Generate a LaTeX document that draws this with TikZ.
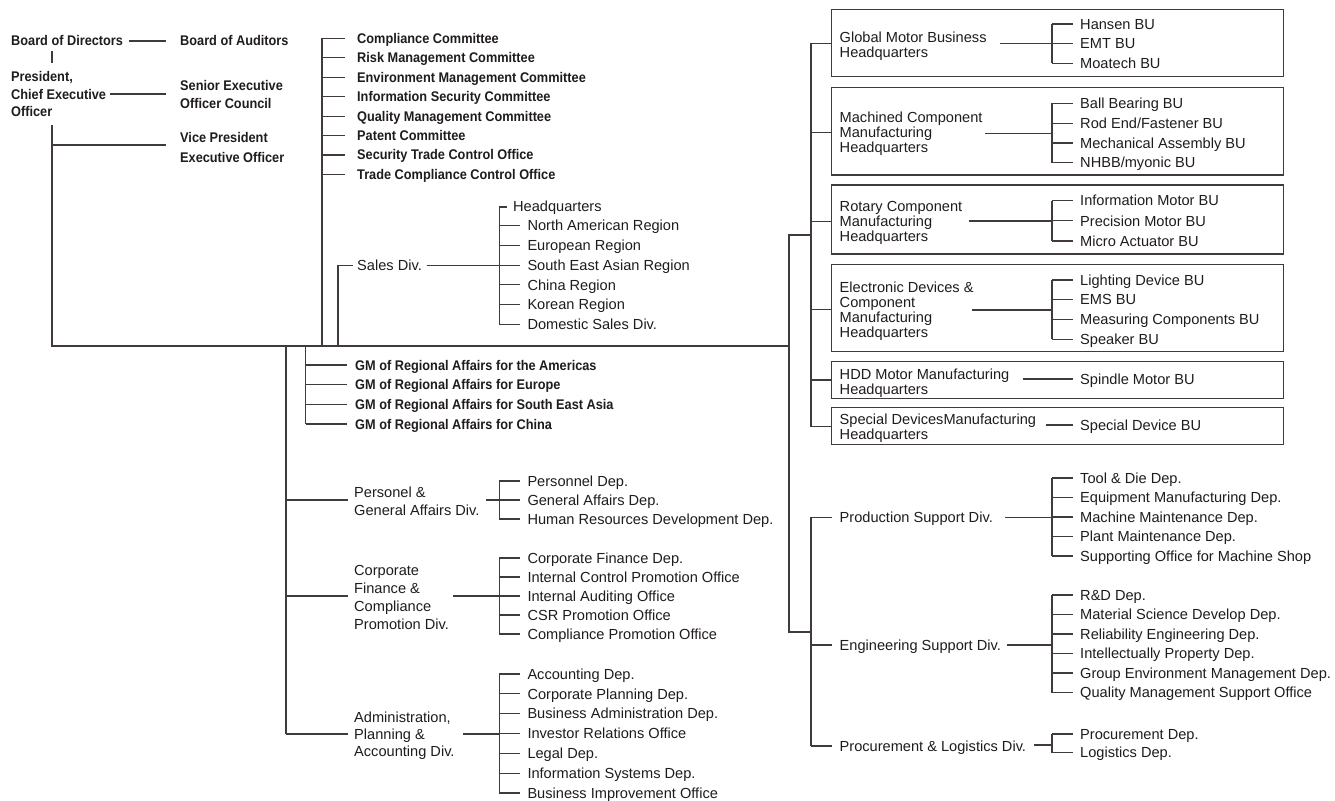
\documentclass[tikz,border=0pt]{standalone}
\usepackage{fontspec}
\setmainfont{Liberation Sans}
\newfontfamily\bfnt{Liberation Sans}[FakeStretch=0.91]
\definecolor{linec}{RGB}{64,58,58}
\definecolor{txt}{RGB}{32,28,28}
\newcommand\mylist[5]{% #1 prefix, #2 spine x, #3 y0, #4 dy, #5 items
  \foreach \t [count=\i from 0] in {#5}{
    \node[tr] (#1\i) at ({#2+28},{#3+#4*\i}) {\t};
    \draw[ln] (#2,{#3+#4*\i}) -- ([xshift=-7pt]#1\i.west);
  }
}
\begin{document}
\begin{tikzpicture}[x=1pt,y=-1pt,
  ln/.style={draw=linec,line width=1.2pt},
  bx/.style={draw=linec,line width=1.25pt,inner sep=0pt},
  tr/.style={anchor=west,inner sep=0pt,text=txt,font=\fontsize{14.6}{17}\selectfont,text height=10.4pt,text depth=0pt},
  tb/.style={anchor=west,inner sep=0pt,text=txt,font=\bfnt\bfseries\fontsize{14}{17}\selectfont,text height=10pt,text depth=0pt},
  mr/.style={anchor=west,inner sep=0pt,text=txt,align=left,font=\fontsize{14.6}{#1}\selectfont},
  mb/.style={anchor=west,inner sep=0pt,text=txt,align=left,font=\bfnt\bfseries\fontsize{14}{#1}\selectfont},
]
\useasboundingbox (0,0) rectangle (1335,800);
\fill[white] (0,0) rectangle (1335,800);

% ---------- top left ----------
\node[tb] (bod) at (11,41) {Board of Directors};
\node[tb] (boa) at (180,41) {Board of Auditors};
\node[mb=17.3] (pres) at (11,94) {President,\\Chief Executive\\Officer};
\node[mb=18] (seoc) at (180,94) {Senior Executive\\Officer Council};
\node[mb=20] (vp) at (180,147) {Vice President\\Executive Officer};
\draw[ln] ([xshift=5.5pt]bod.east) -- ([xshift=-14pt]boa.west);
\coordinate (bp0) at (52,51);
\coordinate (bp1) at (52,62.7);
\draw[ln] (bp0) -- (bp1);
\draw[ln] ([xshift=4pt]pres.east) -- ([xshift=-14pt]seoc.west);
\coordinate (pv) at (52,125);
\coordinate (m0) at (52,346);
\coordinate (m1) at (789,346);
\draw[ln] (pv) -- (m0) -- (m1);
\coordinate (vpj) at (52,145);
\draw[ln] (vpj) -- ([xshift=-14pt]vp.west |- vpj);

% ---------- committees ----------
\draw[ln] (322,38.5) -- (322,346);
\foreach \t [count=\i from 0] in {Compliance Committee, Risk Management Committee, Environment Management Committee, Information Security Committee, Quality Management Committee, Patent Committee, Security Trade Control Office, Trade Compliance Control Office}{
  \node[tb] (com\i) at (357,{38.5+19.4*\i}) {\t};
  \draw[ln] (322,{38.5+19.4*\i}) -- ([xshift=-12pt]com\i.west);
}

% ---------- sales ----------
\node[tr] (sales) at (357,265.5) {Sales Div.};
\draw[ln] (338,346) -- (338,265.5) -- ([xshift=-4pt]sales.west);
\coordinate (ssa) at (426.7,265.5);
\coordinate (ssj) at (499.3,265.5);
\draw[ln] (ssa) -- (ssj);
\draw[ln] (499.3,207) -- (499.3,324.2);
\node[tr] (hq) at (513,206.5) {Headquarters};
\draw[ln] (499.3,207) -- ([xshift=-6pt]hq.west |- 0,207);
\mylist{s}{499.3}{225.7}{19.7}{North American Region, European Region, South East Asian Region, China Region, Korean Region, Domestic Sales Div.}

% ---------- GM ----------
\draw[ln] (305.5,346) -- (305.5,424);
\foreach \t [count=\i from 0] in {GM of Regional Affairs for the Americas, GM of Regional Affairs for Europe, GM of Regional Affairs for South East Asia, GM of Regional Affairs for China}{
  \node[tb] (gm\i) at (355,{365+19.67*\i}) {\t};
  \draw[ln] (305.5,{365+19.67*\i}) -- ([xshift=-8pt]gm\i.west);
}

% ---------- left lower divisions ----------
\draw[ln] (286,346) -- (286,734);
\node[mr=18.3] (pers) at (354,501) {Personel \&\\General Affairs Div.};
\node[mr=18] (corp) at (354,597) {Corporate\\Finance \&\\Compliance\\Promotion Div.};
\node[mr=17.4] (adm) at (354,735.7) {Administration,\\Planning \&\\Accounting Div.};
\coordinate (pj) at (286,500);
\coordinate (cj) at (286,596);
\coordinate (aj) at (286,734);
\draw[ln] (pj) -- ([xshift=-6pt]pers.west |- pj);
\draw[ln] (cj) -- ([xshift=-6pt]corp.west |- cj);
\draw[ln] (aj) -- ([xshift=-6pt]adm.west |- aj);

\coordinate (psa) at (486,500);
\coordinate (psj) at (499.3,500);
\draw[ln] (psa) -- (psj);
\draw[ln] (499.3,481) -- (499.3,519);
\mylist{p}{499.3}{481}{19}{Personnel Dep., General Affairs Dep., Human Resources Development Dep.}

\coordinate (csa) at (453.3,596);
\coordinate (csj) at (499.3,596);
\draw[ln] (csa) -- (csj);
\draw[ln] (499.3,558) -- (499.3,634);
\mylist{c}{499.3}{558}{19}{Corporate Finance Dep., Internal Control Promotion Office, Internal Auditing Office, CSR Promotion Office, Compliance Promotion Office}

\coordinate (asa) at (462.7,734);
\coordinate (asj) at (499.3,734);
\draw[ln] (asa) -- (asj);
\draw[ln] (499.3,674) -- (499.3,793);
\mylist{a}{499.3}{674}{19.83}{Accounting Dep., Corporate Planning Dep., Business Administration Dep., Investor Relations Office, Legal Dep., Information Systems Dep., Business Improvement Office}

% ---------- right structure ----------
\coordinate (r0) at (789,235);
\coordinate (r1) at (789,632);
\draw[ln] (811,235) -- (r0) -- (m1) -- (r1) -- (811,632);
\draw[ln] (811,43.3) -- (811,426.7);
\draw[ln] (811,517.3) -- (811,746);

% boxes
\node[bx,minimum width=452.1pt,minimum height=67.4pt] (b1) at (1057.35,43) {};
\node[bx,minimum width=452.1pt,minimum height=87.7pt] (b2) at (1057.35,131.15) {};
\node[bx,minimum width=452.1pt,minimum height=69pt] (b3) at (1057.35,219.5) {};
\node[bx,minimum width=452.1pt,minimum height=87.4pt] (b4) at (1057.35,308) {};
\node[bx,minimum width=452.1pt,minimum height=36.6pt] (b5) at (1057.35,380) {};
\node[bx,minimum width=452.1pt,minimum height=36.6pt] (b6) at (1057.35,426) {};
\foreach \k/\y in {1/43.3,2/132.7,3/221.7,4/309.3,5/380,6/426.7}{
  \coordinate (bs\k) at (811,\y);
  \draw[ln] (bs\k) -- (bs\k -| b\k.west);
}

\node[mr=15] (h1) at (839.5,46) {Global Motor Business\\Headquarters};
\node[mr=15] (h2) at (839.5,133.5) {Machined Component\\Manufacturing\\Headquarters};
\node[mr=15] (h3) at (839.5,222.5) {Rotary Component\\Manufacturing\\Headquarters};
\node[mr=15] (h4) at (839.5,311.3) {Electronic Devices \&\\Component\\Manufacturing\\Headquarters};
\node[mr=15] (h5) at (839.5,383) {HDD Motor Manufacturing\\Headquarters};
\node[mr=15] (h6) at (839.5,428) {Special DevicesManufacturing\\Headquarters};

\coordinate (i1) at (1000,43.5);
\coordinate (j1) at (1052,43.5);
\draw[ln] (i1) -- (j1);
\draw[ln] (1052,24) -- (1052,63.3);
\mylist{ba}{1052}{24}{19.65}{Hansen BU, EMT BU, Moatech BU}

\coordinate (i2) at (985.3,133.5);
\coordinate (j2) at (1052,133.5);
\draw[ln] (i2) -- (j2);
\draw[ln] (1052,103.3) -- (1052,162.7);
\mylist{bb}{1052}{103.3}{19.8}{Ball Bearing BU, Rod End/Fastener BU, Mechanical Assembly BU, NHBB/myonic BU}

\coordinate (i3) at (969.4,221);
\coordinate (j3) at (1052,221);
\draw[ln] (i3) -- (j3);
\draw[ln] (1052,200.7) -- (1052,241);
\mylist{bc}{1052}{200.7}{20.15}{Information Motor BU, Precision Motor BU, Micro Actuator BU}

\coordinate (i4) at (971.9,310);
\coordinate (j4) at (1052,310);
\draw[ln] (i4) -- (j4);
\draw[ln] (1052,280) -- (1052,339.3);
\mylist{bd}{1052}{280}{19.77}{Lighting Device BU, EMS BU, Measuring Components BU, Speaker BU}

\node[tr] (sp5) at (1080,379) {Spindle Motor BU};
\coordinate (i5) at (1022.5,379);
\draw[ln] (i5) -- ([xshift=-7pt]sp5.west);
\node[tr] (sp6) at (1080,425) {Special Device BU};
\coordinate (i6) at (1045.5,425);
\draw[ln] (i6) -- ([xshift=-7pt]sp6.west);

% ---------- lower right divisions ----------
\node[tr] (prod) at (839.5,517.3) {Production Support Div.};
\node[tr] (eng) at (839.5,645) {Engineering Support Div.};
\node[tr] (proc) at (839.5,746) {Procurement \& Logistics Div.};
\coordinate (lj1) at (811,517.3);
\coordinate (lj2) at (811,645);
\coordinate (lj3) at (811,746);
\draw[ln] (lj1) -- ([xshift=-8pt]prod.west);
\draw[ln] (lj2) -- ([xshift=-8pt]eng.west);
\draw[ln] (lj3) -- ([xshift=-8pt]proc.west);

\coordinate (q1) at (1005,517.3);
\coordinate (k1) at (1052,517.3);
\draw[ln] (q1) -- (k1);
\draw[ln] (1052,478) -- (1052,556);
\mylist{pa}{1052}{478}{19.5}{Tool \& Die Dep., Equipment Manufacturing Dep., Machine Maintenance Dep., Plant Maintenance Dep., Supporting Office for Machine Shop}

\coordinate (q2) at (1006.6,645);
\coordinate (k2) at (1052,645);
\draw[ln] (q2) -- (k2);
\draw[ln] (1052,595) -- (1052,692.5);
\mylist{ea}{1052}{595}{19.5}{R\&D Dep., Material Science Develop Dep., Reliability Engineering Dep., Intellectually Property Dep., Group Environment Management Dep., Quality Management Support Office}

\coordinate (q3) at (1034.2,745);
\coordinate (k3) at (1052,745);
\draw[ln] (q3) -- (k3);
\draw[ln] (1052,734) -- (1052,752.7);
\mylist{pl}{1052}{734}{18.7}{Procurement Dep., Logistics Dep.}
\end{tikzpicture}
\end{document}
